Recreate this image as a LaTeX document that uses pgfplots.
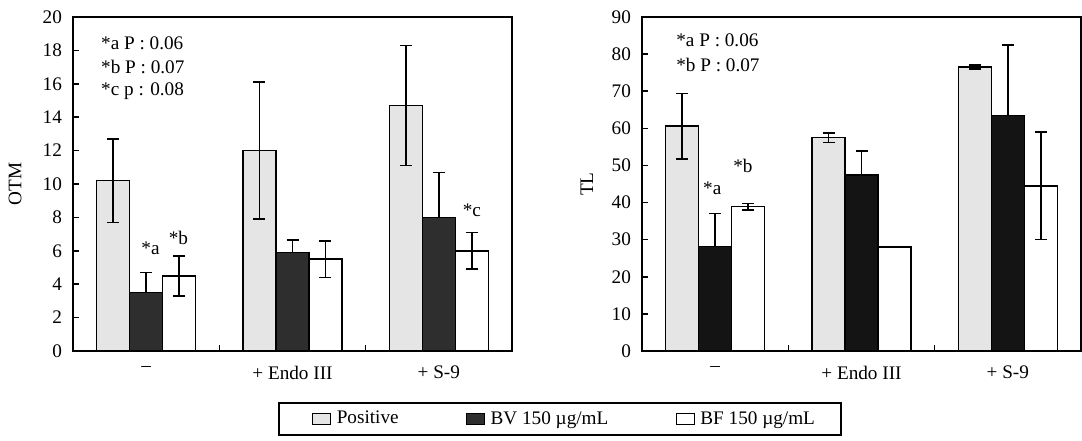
\documentclass[border=0pt]{standalone}
\usepackage{fontspec}
\setmainfont{Liberation Serif}
\usepackage{pgfplots}
\usepackage{pgfplotstable}
\pgfplotsset{compat=1.18}
\tikzset{ann/.style={anchor=west, inner sep=0pt}}

\pgfplotstableread{
x pos pose bv bve bf bfe
0 10.2 2.5 3.5 1.2 4.5 1.2
1 12.0 4.1 5.9 0.75 5.5 1.1
2 14.7 3.6 8.0 2.7 6.0 1.1
}\otm
\pgfplotstableread{
x pos pose bv bve bf bfe
0 60.6 8.8 28.2 8.9 38.9 0.9
1 57.5 1.3 47.5 6.4 28.0 0
2 76.5 0.5 63.5 19.0 44.5 14.5
}\tl

\pgfplotsset{
  mybars/.style={
    ybar=0pt, bar width=16.5pt,
    scale only axis, width=219.5pt, height=167pt,
    xmin=-0.5, xmax=2.5, ymin=0,
    xtick={0.5,1.5}, xticklabels={},
    extra x ticks={0,1,2},
    extra x tick labels={\textendash, + Endo III, + S-9},
    extra x tick style={major tick length=0pt},
    xticklabel style={yshift=-4pt},
    yticklabel style={xshift=-2pt},
    tick align=inside, xtick pos=bottom, ytick pos=left,
    major tick length=3pt,
    axis line style={line width=0.8pt},
    every tick/.style={line width=0.8pt, black},
    font=\fontsize{9.6}{11}\selectfont,
    /pgf/number format/assume math mode=true,
    legend image code/.code={\path[draw=none, fill=none] (0pt,0pt) rectangle (16pt,0.1pt);
      \draw[#1, line width=0.6pt] (6pt,-2.8pt) rectangle (15pt,3pt);},
  },
  errb/.style={
    draw=black, line width=0.8pt,
    error bars/y dir=both, error bars/y explicit,
    error bars/error bar style={line width=0.8pt, black},
    error bars/error mark options={rotate=90, mark size=3pt, line width=0.8pt, black},
  },
  errp/.style={errb, error bars/y dir=plus},
}

\begin{document}
\begin{tikzpicture}
\begin{axis}[mybars, ymax=20, ytick={0,2,...,20},
  ylabel={OTM},
  every axis y label/.style={at={(axis description cs:-0.132,0.5)}, rotate=90, anchor=center},
  legend columns=3,
  legend style={at={(axis description cs:1.109,-0.204)}, anchor=center, draw=black, line width=0.8pt,
    font=\fontsize{9.6}{11}\selectfont, inner xsep=11pt, inner ysep=2pt,
    /tikz/every even column/.append style={column sep=26pt}},
]
\addplot[errb, fill=black!10] table[x=x, y=pos, y error=pose] {\otm};
\addplot[errp, fill=black!82] table[x=x, y=bv, y error=bve] {\otm};
\addplot[errb, fill=white] table[x=x, y=bf, y error=bfe] {\otm};
\legend{Positive, BV 150 µg/mL, BF 150 µg/mL}
\node[ann] at (axis cs:-0.31,18.44) {*a P : 0.06};
\node[ann] at (axis cs:-0.31,17.0) {*b P : 0.07};
\node[ann] at (axis cs:-0.31,15.57) {*c p : 0.08};
\node at (axis cs:0.03,6.17) {*a};
\node at (axis cs:0.22,6.8) {*b};
\node at (axis cs:2.226,8.44) {*c};
\end{axis}
\begin{axis}[mybars, at={(284.5pt,0pt)}, ymax=90, ytick={0,10,...,90},
  ylabel={TL},
  every axis y label/.style={at={(axis description cs:-0.1256,0.5)}, rotate=90, anchor=center},
]
\addplot[errb, fill=black!10] table[x=x, y=pos, y error=pose] {\tl};
\addplot[errp, fill=black!92] table[x=x, y=bv, y error=bve] {\tl};
\addplot[errb, fill=white] table[x=x, y=bf, y error=bfe] {\tl};
\node[ann] at (axis cs:-0.268,83.8) {*a P : 0.06};
\node[ann] at (axis cs:-0.268,77.1) {*b P : 0.07};
\node at (axis cs:-0.02,43.9) {*a};
\node at (axis cs:0.19,49.85) {*b};
\end{axis}
\pgfresetboundingbox
\useasboundingbox (-36.5pt,-44.5pt) rectangle (504.5pt,175.5pt);
\end{tikzpicture}
\end{document}
